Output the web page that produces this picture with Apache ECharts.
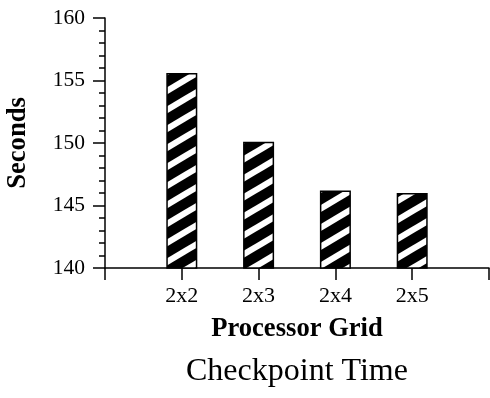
<!DOCTYPE html>
<html>
<head>
<meta charset="utf-8">
<script src="https://cdn.jsdelivr.net/npm/echarts@6/dist/echarts.min.js"></script>
<style>
html,body{margin:0;padding:0;background:#fff;}
#c{width:490px;height:398px;}
</style>
</head>
<body>
<div id="c"></div>
<script>
// Data
var categories = ['', '2x2', '2x3', '2x4', '2x5', ''];
var seconds = [null, 155.6, 150.1, 146.2, 146.0, null];
var yTicks = { min: 140, max: 160, interval: 5 };
var titleText = 'Checkpoint Time';
var xName = 'Processor Grid';
var yName = 'Seconds';

// Hatch pattern: black with white diagonal stripes rising to the right
function makeHatch() {
  var w = 32, h = 19;
  var cv = document.createElement('canvas');
  cv.width = w; cv.height = h;
  var ctx = cv.getContext('2d');
  ctx.fillStyle = '#000';
  ctx.fillRect(0, 0, w, h);
  ctx.strokeStyle = '#fff';
  ctx.lineWidth = 6.2;
  for (var k = -2; k <= 2; k++) {
    ctx.beginPath();
    ctx.moveTo(-w, 2 * h + k * h);
    ctx.lineTo(2 * w, -h + k * h);
    ctx.stroke();
  }
  return cv;
}

var chart = echarts.init(document.getElementById('c'), null, { renderer: 'canvas' });
var font = '"Liberation Serif", "Times New Roman", serif';
chart.setOption({
  animation: false,
  backgroundColor: '#fff',
  title: {
    text: titleText,
    left: 186,
    top: 356,
    padding: 0,
    textStyle: { fontFamily: font, fontSize: 32, fontWeight: 'normal', color: '#000' }
  },
  grid: { left: 105, right: 1, top: 18, bottom: 130, containLabel: false, outerBoundsMode: 'none' },
  xAxis: {
    type: 'category',
    data: categories,
    boundaryGap: false,
    name: xName,
    nameLocation: 'middle',
    nameGap: 48,
    nameTextStyle: { fontFamily: font, fontSize: 26.6, fontWeight: 'bold', color: '#000' },
    axisLine: { show: true, lineStyle: { color: '#000', width: 1.5 } },
    axisTick: { show: true, length: 12, alignWithLabel: true, interval: 0, lineStyle: { color: '#000', width: 1.5 } },
    axisLabel: { interval: 0, margin: 17, fontFamily: font, fontSize: 22, color: '#000' },
    splitLine: { show: false }
  },
  yAxis: {
    type: 'value',
    min: yTicks.min,
    max: yTicks.max,
    interval: yTicks.interval,
    name: yName,
    nameLocation: 'middle',
    nameGap: 73,
    nameTextStyle: { fontFamily: font, fontSize: 26.6, fontWeight: 'bold', color: '#000' },
    axisLine: { show: true, lineStyle: { color: '#000', width: 1.5 } },
    axisTick: { show: true, length: 12, lineStyle: { color: '#000', width: 1.5 } },
    minorTick: { show: true, splitNumber: 5, length: 6, lineStyle: { color: '#000', width: 1.5 } },
    axisLabel: { margin: 20, fontFamily: font, fontSize: 21.5, color: '#000' },
    splitLine: { show: false },
    minorSplitLine: { show: false }
  },
  series: [{
    type: 'bar',
    data: seconds,
    barWidth: 31,
    itemStyle: {
      color: { image: makeHatch(), repeat: 'repeat' },
      borderColor: '#000',
      borderWidth: 1.5
    },
    emphasis: { disabled: true }
  }]
});
</script>
</body>
</html>
